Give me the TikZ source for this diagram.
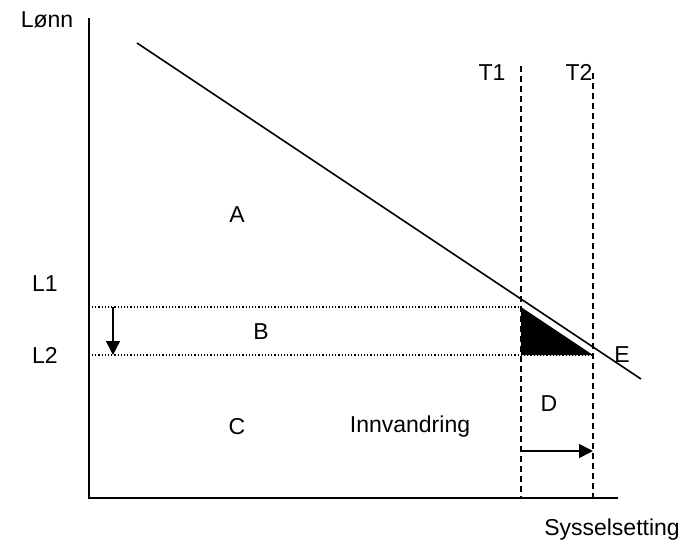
\documentclass[tikz,border=0pt]{standalone}
\usepackage{fontspec}
\setmainfont{Liberation Sans}
\usetikzlibrary{arrows.meta}

\begin{document}
\begin{tikzpicture}[x=1pt,y=-1pt,
    lbl/.style={font=\fontsize{23}{27}\selectfont, inner sep=0pt},
    axis/.style={line width=2pt},
    tline/.style={line width=1.8pt, dash pattern=on 6pt off 4pt},
    lline/.style={line width=1.4pt, dash pattern=on 1.2pt off 2pt},
    movearrow/.style={line width=1.5pt, -{Triangle[length=14pt,width=14pt]}}]
    \useasboundingbox (0,0) rectangle (682,549);
    % Axes
    \coordinate (origo) at (89,498);
    \coordinate (ytop) at (89,18);
    \coordinate (xend) at (618,498);
    \draw[axis] (ytop) -- (origo) -- (xend);
    \node[lbl] (lonn) at (47,20) {Lønn};
    \node[lbl] (syss) at (612,530) {Sysselsetting};
    % Demand curve
    \coordinate (dtop) at (137,43);
    \coordinate (dbot) at (641,379);
    \draw[line width=1.6pt] (dtop) -- (dbot);
    % Wage levels
    \coordinate (l1a) at (92,307);
    \coordinate (l1b) at (521,307);
    \coordinate (l2a) at (92,355);
    \coordinate (l2b) at (593,355);
    \draw[lline] (l1a) -- (l1b);
    \draw[lline] (l2a) -- (l2b);
    \node[lbl] (l1) at (45,284) {L1};
    \node[lbl] (l2) at (45,355) {L2};
    % Employment levels
    \coordinate (t1top) at (521,66);
    \coordinate (t1bot) at (521,498);
    \coordinate (t2top) at (593,73);
    \coordinate (t2bot) at (593,498);
    \draw[tline] (t1top) -- (t1bot);
    \draw[tline] (t2top) -- (t2bot);
    \node[lbl] (t1) at (492,73) {T1};
    \node[lbl] (t2) at (579,72) {T2};
    % Triangle
    \fill (l1b) -- (l2b -| l1b) -- (l2b) -- cycle;
    % Shifts
    \coordinate (wdown1) at (113,307);
    \coordinate (wdown2) at (113,355);
    \draw[movearrow] (wdown1) -- (wdown2);
    \coordinate (emp1) at (521,451);
    \coordinate (emp2) at (593,451);
    \draw[movearrow] (emp1) -- (emp2);
    % Areas
    \node[lbl] (a) at (237,215) {A};
    \node[lbl] (b) at (261,332) {B};
    \node[lbl] (c) at (237,427) {C};
    \node[lbl] (d) at (549,404) {D};
    \node[lbl] (e) at (622,355) {E};
    \node[lbl] (innv) at (410,427) {Innvandring};
\end{tikzpicture}
\end{document}
